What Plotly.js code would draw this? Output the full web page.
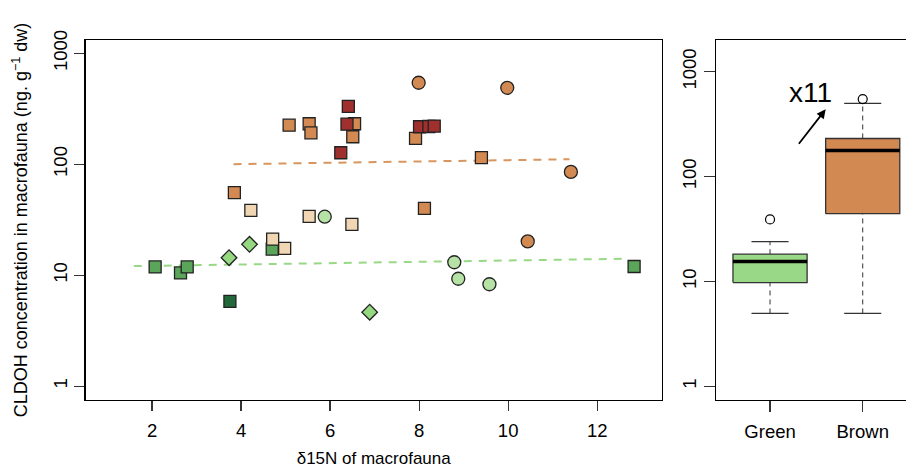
<!DOCTYPE html>
<html><head><meta charset="utf-8">
<script src="https://cdn.plot.ly/plotly-3.0.1.min.js"></script>
<style>html,body{margin:0;padding:0;background:#fff}#chart{width:906px;height:468px}</style>
</head><body><div id="chart"></div>
<script>
// ---- scatter data (delta15N, CLDOH ng/g dw) ----
const medGreenSqX = [4.70, 2.07, 2.64, 2.79, 12.83];
const medGreenSqY = [17.2, 11.9, 10.5, 11.9, 12.0];
const darkGreenSqX = [3.75];
const darkGreenSqY = [5.81];
const diamondX = [4.19, 3.73, 6.89];
const diamondY = [19.0, 14.4, 4.65];
const lightGreenCircX = [5.88, 8.79, 8.88, 9.58];
const lightGreenCircY = [33.7, 13.1, 9.3, 8.3];
const tanSqX = [4.22, 5.53, 6.49, 4.71, 4.98];
const tanSqY = [38.5, 34.0, 28.8, 21.2, 17.5];
const orangeSqX = [5.08, 5.53, 5.57, 6.55, 6.51, 7.92, 9.40, 3.85, 8.12];
const orangeSqY = [225, 232, 192, 232, 177, 171, 115, 55.6, 40];
const orangeCircX = [7.99, 9.98, 11.41, 10.44];
const orangeCircY = [543, 489, 85.4, 20.2];
const darkRedSqX = [6.41, 6.38, 6.24, 8.01, 8.22, 8.34];
const darkRedSqY = [332, 230, 127, 218, 219, 221];
// ---- fitted trend lines ----
const brownFitX = [3.83, 11.38];
const brownFitY = [100.2, 111];
const greenFitX = [1.59, 12.67];
const greenFitY = [12.1, 14.1];
// ---- boxplot summary ----
const boxCats = ['Green', 'Brown'];
const boxPos = [1, 2];
const boxLowW = [4.95, 4.95];
const boxQ1 = [9.75, 44.3];
const boxMed = [15.5, 177];
const boxQ3 = [18.2, 231];
const boxUpW = [24.0, 500];
const boxOutliers = [[39.0], [549]];
const boxColors = ['#98D886', '#D38952'];
const xTicks = [2, 4, 6, 8, 10, 12];
const yTicks = [1, 10, 100, 1000];

const FONT = 'Liberation Sans, Arial, sans-serif';
const OUT = '#222';
function pts(x, y, sym, col, size) {
  return {type:'scatter', mode:'markers', x:x, y:y, xaxis:'x', yaxis:'y', showlegend:false, hoverinfo:'skip',
    marker:{symbol:sym, color:col, size:size, line:{color:OUT, width:1.3}}};
}
const traces = [
  {type:'scatter', mode:'lines', x:greenFitX, y:greenFitY, xaxis:'x', yaxis:'y', showlegend:false,
    line:{color:'#98D886', width:2, dash:'8px,7px'}},
  {type:'scatter', mode:'lines', x:brownFitX, y:brownFitY, xaxis:'x', yaxis:'y', showlegend:false,
    line:{color:'#D9955E', width:2, dash:'8px,7px'}},
  pts(medGreenSqX, medGreenSqY, 'square', '#5AA55A', 12),
  pts(darkGreenSqX, darkGreenSqY, 'square', '#23683A', 12),
  pts(diamondX, diamondY, 'diamond', '#96D782', 12),
  pts(lightGreenCircX, lightGreenCircY, 'circle', '#B6E2A6', 13),
  pts(tanSqX, tanSqY, 'square', '#F0D6B2', 12),
  pts(orangeSqX, orangeSqY, 'square', '#D38952', 12),
  pts(orangeCircX, orangeCircY, 'circle', '#D38952', 13),
  pts(darkRedSqX, darkRedSqY, 'square', '#A0302E', 12)
];
// boxplots drawn from summary arrays
const hw = 0.4, cw = 0.2;
boxPos.forEach((p, i) => {
  const ax = {xaxis:'x2', yaxis:'y2', showlegend:false, hoverinfo:'skip', type:'scatter'};
  traces.push(Object.assign({}, ax, {mode:'lines', x:[p, p, null, p, p], y:[boxLowW[i], boxQ1[i], null, boxQ3[i], boxUpW[i]],
    line:{color:'#333', width:1, dash:'5px,4px'}}));
  traces.push(Object.assign({}, ax, {mode:'lines', x:[p-cw, p+cw, null, p-cw, p+cw], y:[boxLowW[i], boxLowW[i], null, boxUpW[i], boxUpW[i]],
    line:{color:'#333', width:1.2}}));
  traces.push(Object.assign({}, ax, {mode:'lines', fill:'toself', fillcolor:boxColors[i],
    x:[p-hw, p+hw, p+hw, p-hw, p-hw], y:[boxQ1[i], boxQ1[i], boxQ3[i], boxQ3[i], boxQ1[i]],
    line:{color:'#333', width:1.3}}));
  traces.push(Object.assign({}, ax, {mode:'lines', x:[p-hw, p+hw], y:[boxMed[i], boxMed[i]],
    line:{color:'#000', width:3.5}}));
  traces.push(Object.assign({}, ax, {mode:'markers', x:boxOutliers[i].map(() => p), y:boxOutliers[i],
    marker:{symbol:'circle-open', color:'#000', size:9, line:{width:1.2}}}));
});

const tickFont = {family:FONT, size:18.5, color:'#000'};
const layout = {
  width:906, height:468, paper_bgcolor:'#fff', plot_bgcolor:'#fff',
  margin:{l:0, r:0, t:40, b:68},
  font:{family:FONT, color:'#000'},
  xaxis:{domain:[85.7/906, 661.7/906], range:[0.51, 13.45], tickvals:xTicks, ticks:'outside', ticklen:10, tickwidth:1.2,
    tickcolor:'#333', showline:true, mirror:true, linecolor:'#000', linewidth:1.3, showgrid:false, zeroline:false,
    ticklabelstandoff:3, tickfont:tickFont, title:{text:'δ15N of macrofauna', font:{family:FONT, size:17}, standoff:19}},
  yaxis:{type:'log', range:[-0.124, 3.12], tickvals:yTicks, ticktext:yTicks.map(String), tickangle:-90, ticks:'outside', ticklen:10,
    tickwidth:1.2, tickcolor:'#333', showline:true, mirror:true, linecolor:'#000', linewidth:1.3, showgrid:false, zeroline:false,
    tickfont:tickFont, title:{text:'CLDOH concentration in macrofauna (ng. g<sup>−1</sup> dw)', font:{family:FONT, size:18}, standoff:17}},
  xaxis2:{domain:[716/906, 1], range:[0.417, 2.467], tickvals:boxPos, ticktext:boxCats, ticks:'outside', ticklen:11, tickwidth:1.2,
    tickcolor:'#333', showline:true, mirror:true, linecolor:'#000', linewidth:1.3, showgrid:false, zeroline:false, anchor:'y2',
    ticklabelstandoff:3, tickfont:tickFont},
  yaxis2:{type:'log', anchor:'x2', range:[-0.131, 3.303], tickvals:yTicks, ticktext:yTicks.map(String), tickangle:-90, ticks:'outside',
    ticklen:11, tickwidth:1.2, tickcolor:'#333', showline:true, linecolor:'#000', linewidth:1.3, showgrid:false, zeroline:false,
    tickfont:tickFont},
  annotations:[
    {xref:'paper', yref:'paper', x:810.5/906, y:(400-92)/360, xanchor:'center', yanchor:'middle', text:'x11', showarrow:false,
      font:{family:FONT, size:28, color:'#000'}},
    {xref:'paper', yref:'paper', x:825.7/906, y:(400-109.3)/360, ax:-28, ay:36, text:'', showarrow:true,
      arrowhead:2, arrowsize:1, arrowwidth:1.8, arrowcolor:'#000'}
  ]
};
Plotly.newPlot('chart', traces, layout, {displayModeBar:false, staticPlot:true});
</script></body></html>
